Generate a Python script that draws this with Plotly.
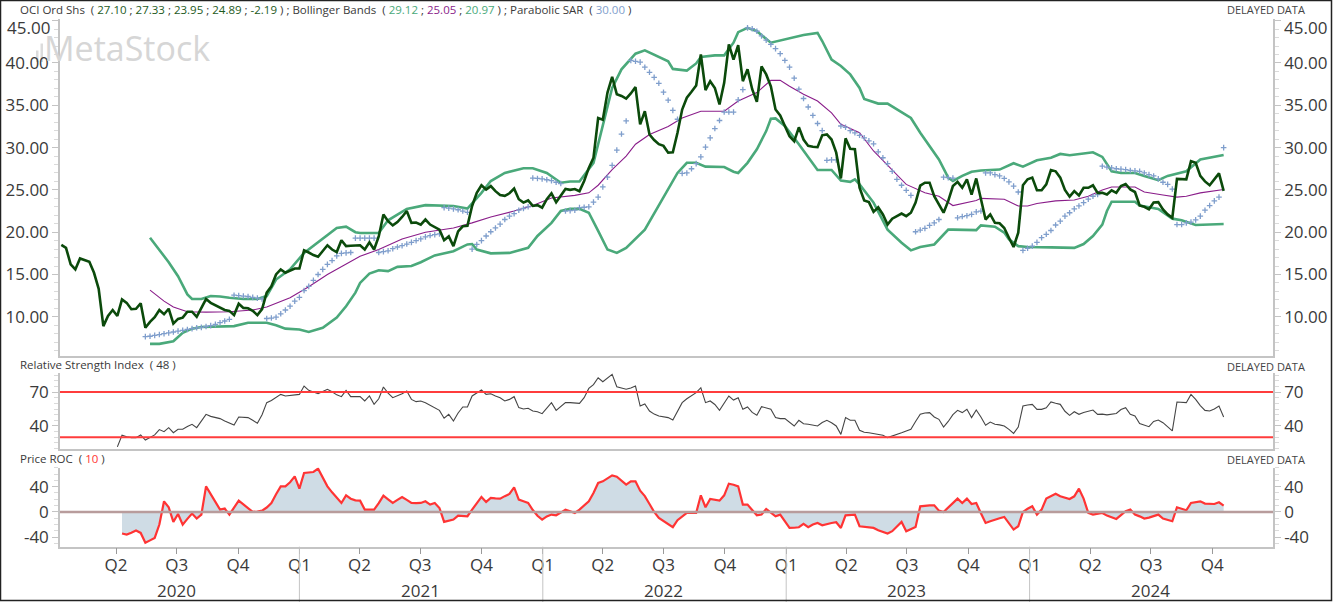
import pandas as pd
import plotly.graph_objects as go

# ---------------- data ----------------
dates = pd.date_range('2020-01-10', periods=250, freq='W-FRI')

price = [18.5, 18.15, 16.2, 15.6, 16.9, 16.7, 16.5, 15.2, 13.3, 8.9,
         10.1, 10.8, 10.1, 12.05, 11.65, 10.9, 10.95, 11.6, 8.7, 9.4,
         9.95, 10.8, 10.3, 10.95, 9.2, 9.75, 9.9, 10.6, 10.6, 10.0,
         11.1, 12.1, 11.65, 11.35, 11.0, 10.8, 10.7, 10.2, 11.55, 11.05,
         11.0, 10.7, 10.2, 10.9, 12.85, 13.6, 15.0, 15.6, 15.2, 15.45,
         15.7, 15.7, 17.85, 17.6, 17.3, 17.1, 17.8, 18.45, 17.95, 17.65,
         19.05, 18.35, 18.4, 18.4, 18.45, 17.95, 18.8, 17.95, 19.5, 22.1,
         21.3, 20.8, 21.2, 21.8, 22.5, 21.1, 21.15, 20.9, 21.5, 20.9,
         20.6, 20.3, 19.05, 19.5, 18.35, 20.1, 20.7, 20.75, 23.1, 24.65,
         25.55, 25.05, 25.45, 24.85, 24.4, 24.3, 24.6, 25.15, 23.9, 23.5,
         23.75, 23.1, 23.2, 22.9, 23.9, 24.6, 23.55, 24.3, 25.1, 25.0,
         25.1, 24.85, 26.05, 27.6, 28.8, 33.5, 33.3, 36.5, 38.35, 36.3,
         36.1, 35.8, 36.4, 37.15, 32.75, 34.3, 31.55, 30.9, 30.4, 30.2,
         29.4, 29.45, 31.75, 34.5, 35.9, 36.6, 37.35, 41.0, 36.8, 37.85,
         37.05, 35.1, 37.65, 42.2, 40.4, 42.1, 37.85, 39.25, 36.9, 35.4,
         39.6, 38.65, 37.25, 34.5, 33.8, 32.55, 31.35, 30.75, 32.4, 30.95,
         30.2, 30.1, 30.05, 31.45, 31.55, 30.95, 29.4, 26.35, 31.1, 29.85,
         29.8, 25.25, 23.75, 23.55, 22.4, 22.95, 22.1, 20.9, 21.6, 21.9,
         22.2, 21.9, 22.3, 23.5, 25.5, 25.85, 25.85, 24.25, 23.3, 22.3,
         23.7, 25.45, 25.95, 25.25, 26.25, 24.45, 26.35, 24.05, 21.5, 22.1,
         21.1, 21.05, 20.5, 19.35, 18.25, 19.95, 25.55, 26.25, 26.45, 24.95,
         24.95, 25.65, 27.35, 27.2, 26.45, 25.0, 24.2, 24.85, 24.35, 25.25,
         25.25, 25.55, 24.65, 24.65, 24.45, 24.95, 24.65, 25.45, 25.7, 25.05,
         24.75, 23.15, 23.0, 22.7, 23.5, 23.55, 22.7, 22.1, 21.7, 26.3,
         26.3, 26.25, 28.4, 28.2, 26.65, 26.0, 25.55, 26.25, 26.95, 24.89]

sar = [None] * 18 + [
    7.65, 7.7, 7.8, 7.9, 8.0, 8.1, 8.2, 8.3, 8.4, 8.5,
    8.6, 8.7, 8.75, 8.85, 8.95, 9.1, 9.3, 9.5, 9.7, 12.55,
    12.5, 12.45, 12.4, 12.3, 12.2, 12.1, 9.8, 9.85, 9.95, 10.35,
    10.8, 11.25, 11.85, 12.3, 13.1, 13.6, 14.3, 15.0, 15.6, 16.2,
    16.65, 17.2, 17.5, 17.55, 17.6, 19.3, 19.3, 19.3, 19.3, 19.3,
    17.6, 17.7, 17.8, 18.05, 18.25, 18.4, 18.6, 18.8, 19.0, 19.2,
    19.45, 19.6, 19.7, 19.8, 22.9, 22.85, 22.75, 22.65, 22.5, 22.35,
    18.0, 18.55, 19.0, 19.55, 20.05, 20.5, 20.95, 21.5, 21.9, 22.2,
    22.6, 22.8, 23.0, 26.4, 26.35, 26.3, 26.2, 26.1, 25.9, 25.75,
    22.5, 22.55, 22.6, 22.9, 22.95, 23.0, 23.55, 24.15, 25.35, 26.5,
    27.9, 29.7, 31.6, 33.15, 40.3, 40.2, 40.1, 39.5, 38.9, 38.3,
    37.6, 36.55, 35.6, 34.4, 33.35, 26.95, 27.0, 27.5, 28.1, 28.9,
    30.05, 31.15, 32.25, 33.2, 34.2, 34.2, 34.2, 35.65, 36.85, 44.15,
    44.05, 43.75, 43.2, 42.7, 42.2, 41.7, 41.1, 40.3, 39.5, 38.2,
    36.9, 35.8, 34.8, 33.8, 32.85, 32.0, 28.5, 28.55, 28.55, 32.55,
    32.4, 32.0, 31.75, 31.45, 31.15, 30.8, 30.45, 29.5, 28.8, 28.1,
    27.2, 26.25, 25.55, 24.95, 24.35, 20.05, 20.25, 20.45, 20.8, 21.1,
    21.5, 26.5, 26.45, 26.4, 21.7, 21.85, 21.95, 22.1, 22.4, 22.5,
    27.0, 27.0, 26.8, 26.65, 26.35, 25.95, 25.45, 24.75, 17.85, 18.1,
    18.35, 18.8, 19.35, 19.75, 20.2, 20.85, 21.3, 21.9, 22.3, 22.75,
    23.1, 23.5, 23.9, 24.25, 24.45, 27.8, 27.7, 27.6, 27.5, 27.45,
    27.4, 27.3, 27.25, 27.2, 27.0, 26.8, 26.65, 26.3, 25.9, 25.65,
    25.1, 20.9, 20.9, 21.1, 21.2, 21.45, 21.9, 22.6, 23.15, 23.7,
    24.15, 30.0]

# Bollinger band knots (week number, value)
bb_up_week = [19, 21, 23, 25, 27, 28, 30, 32, 34, 36, 39, 42, 44, 46, 49, 52, 56, 59, 61, 63,
              64, 68, 70, 74, 78, 84, 87, 90, 92, 95, 99, 101, 104, 107, 109, 111, 114, 116, 118, 120,
              123, 125, 127, 130, 131, 134, 136, 137, 140, 142, 144, 145, 147, 149, 152, 155, 157, 159, 162, 163,
              165, 167, 169, 171, 172, 175, 177, 179, 182, 184, 186, 188, 190, 191, 193, 195, 197, 201, 204, 206,
              209, 212, 214, 216, 219, 221, 223, 225, 227, 230, 232, 235, 237, 241, 244, 246, 249]
bb_up_val = [19.35, 17.95, 16.45, 14.8, 12.65, 12.1, 12.1, 12.45, 12.4, 12.25, 12.1, 12.1, 12.45, 14.4, 15.6, 17.55, 19.2, 20.5, 20.65, 20.0,
             19.9, 19.9, 21.4, 22.75, 23.2, 23.1, 22.8, 24.65, 26.05, 27.0, 27.55, 27.55, 27.0, 25.85, 26.0, 26.0, 28.2, 32.55, 37.05, 39.25,
             41.1, 41.5, 41.0, 40.2, 39.3, 39.1, 39.95, 40.7, 40.9, 40.9, 42.4, 43.65, 44.15, 43.75, 42.4, 42.8, 43.1, 43.3, 43.55, 42.6,
             40.4, 39.65, 38.65, 37.05, 35.75, 35.2, 35.2, 34.5, 33.5, 31.75, 30.2, 28.6, 26.45, 26.05, 26.65, 27.15, 27.3, 27.4, 28.15, 27.75,
             28.5, 28.8, 29.25, 29.1, 29.3, 29.45, 28.9, 27.2, 27.0, 27.0, 26.65, 26.15, 26.65, 27.2, 28.6, 28.8, 29.12]

bb_mid_week = [19, 22, 24, 27, 31, 36, 41, 44, 49, 53, 57, 61, 64, 68, 73, 78, 84, 88, 92, 97,
               101, 105, 110, 113, 115, 118, 121, 123, 126, 130, 133, 137, 142, 145, 149, 152, 154, 156, 159, 162,
               165, 167, 171, 174, 178, 181, 185, 188, 191, 194, 196, 197, 202, 205, 207, 209, 213, 217, 220, 223,
               225, 230, 232, 236, 239, 241, 244, 249]
bb_mid_val = [13.15, 11.85, 11.15, 10.6, 10.55, 10.6, 10.8, 11.15, 12.25, 13.55, 15.0, 16.2, 17.15, 17.95, 19.2, 20.0, 20.5, 21.1, 21.8, 22.5,
              23.15, 24.05, 24.35, 24.65, 25.55, 27.4, 29.0, 30.4, 31.55, 32.5, 33.5, 34.3, 34.3, 35.5, 36.5, 37.95, 37.95, 37.25, 36.3, 35.5,
              34.1, 32.75, 31.75, 29.6, 27.4, 25.65, 24.65, 24.25, 23.15, 23.55, 23.75, 24.0, 23.9, 23.1, 23.1, 23.4, 23.7, 23.8, 24.25, 25.0,
              25.35, 25.35, 24.75, 24.4, 24.15, 24.25, 24.65, 25.05]

bb_low_week = [19, 21, 24, 26, 28, 30, 37, 40, 44, 46, 48, 51, 53, 56, 59, 61, 63, 64, 66, 68,
               70, 72, 75, 77, 80, 84, 87, 88, 89, 92, 96, 100, 102, 105, 107, 109, 111, 113, 115, 117,
               119, 121, 125, 128, 129, 132, 134, 136, 138, 142, 144, 145, 147, 149, 151, 152, 153, 155, 158, 161,
               162, 165, 167, 169, 170, 171, 174, 177, 180, 182, 184, 187, 190, 191, 196, 197, 200, 202, 203, 205,
               207, 212, 217, 219, 221, 223, 224, 225, 230, 231, 235, 238, 240, 243, 249]
bb_low_val = [6.8, 6.8, 7.1, 8.1, 8.6, 8.8, 8.9, 9.3, 9.3, 9.0, 8.6, 8.5, 8.2, 8.7, 9.9, 11.25, 12.85, 14.0, 15.1, 15.5,
              15.4, 15.9, 16.0, 16.45, 17.25, 17.75, 18.55, 18.6, 17.95, 17.5, 17.55, 18.15, 19.55, 21.1, 22.5, 22.75, 22.75, 22.3, 20.15, 17.95,
              17.55, 18.15, 20.3, 23.1, 24.2, 27.0, 28.2, 28.2, 27.75, 27.7, 27.15, 27.0, 28.2, 29.8, 31.95, 33.4, 33.45, 32.55, 30.4, 28.2,
              27.35, 27.35, 26.1, 25.95, 26.25, 25.65, 23.5, 20.3, 18.75, 17.85, 18.25, 18.55, 20.3, 20.3, 20.25, 20.8, 20.65, 19.95, 19.15, 18.35,
              18.25, 18.2, 18.15, 18.6, 19.55, 20.9, 22.5, 23.6, 23.6, 23.15, 22.75, 21.6, 21.4, 20.85, 20.97]

rsi = [None] * 12 + [
    21.5, 31.8, 30.5, 29.7, 29.7, 32.1, 27.6, 30.0, 32.1, 36.8,
    35.0, 38.5, 34.1, 37.1, 37.1, 39.5, 41.5, 38.5, 45.0, 50.3,
    48.5, 47.5, 46.5, 44.5, 42.5, 40.9, 47.9, 47.5, 47.4, 45.0,
    42.4, 50.0, 60.6, 62.5, 65.5, 67.9, 66.5, 67.0, 67.5, 67.9,
    75.3, 71.5, 70.0, 68.5, 70.5, 72.4, 70.3, 67.5, 65.9, 71.5,
    65.9, 66.0, 65.9, 62.1, 66.5, 59.1, 64.0, 74.4, 69.0, 65.0,
    66.5, 68.5, 70.9, 63.5, 61.5, 62.1, 60.6, 58.5, 56.2, 53.8,
    46.8, 50.3, 44.4, 51.5, 56.8, 56.8, 66.5, 69.5, 71.8, 67.9,
    68.5, 66.5, 65.0, 62.1, 63.5, 65.9, 56.2, 55.0, 55.6, 53.2,
    52.5, 50.9, 55.5, 60.6, 53.8, 57.0, 60.6, 60.6, 60.6, 60.0,
    65.0, 73.2, 76.5, 82.6, 79.1, 82.0, 85.6, 74.7, 73.5, 72.4,
    73.5, 75.3, 57.6, 59.5, 53.2, 50.5, 48.8, 48.0, 47.4, 45.3,
    53.0, 60.6, 64.0, 66.5, 69.4, 73.8, 60.6, 62.1, 59.0, 53.8,
    60.0, 66.5, 62.9, 65.0, 54.7, 56.8, 52.0, 49.4, 57.1, 56.0,
    54.7, 47.4, 46.5, 46.5, 43.0, 40.0, 45.0, 42.0, 41.5, 40.5,
    40.0, 43.0, 45.0, 42.9, 40.0, 32.6, 47.4, 45.0, 45.0, 36.2,
    34.5, 34.0, 33.2, 32.5, 31.8, 29.7, 31.0, 32.6, 34.0, 35.6,
    37.1, 44.0, 50.3, 51.5, 51.8, 48.0, 45.9, 39.1, 44.0, 50.0,
    53.8, 51.8, 54.7, 47.4, 54.1, 48.0, 40.6, 43.5, 41.5, 41.0,
    40.0, 37.0, 33.5, 39.1, 57.6, 58.5, 59.1, 54.7, 54.7, 56.0,
    61.2, 60.0, 59.1, 53.0, 49.4, 52.6, 50.3, 52.0, 53.0, 54.1,
    50.3, 50.5, 49.8, 50.3, 51.0, 54.5, 56.2, 50.3, 48.8, 42.1,
    41.0, 39.4, 44.0, 45.3, 42.9, 39.1, 35.6, 61.2, 61.0, 60.6,
    67.9, 63.5, 58.0, 53.8, 53.2, 55.0, 57.6, 48.0]

roc = [None] * 13 + [
    -34.2, -35.8, -33.0, -29.5, -33.2, -48.9, -45.0, -41.1, -20.0, 16.8,
    7.4, -15.8, -3.2, -20.0, -11.0, -2.6, -10.5, -4.2, 40.5, 28.0,
    16.8, 3.7, 5.3, -4.2, 7.0, 17.9, 12.0, 6.3, 0.0, 0.5,
    2.1, 7.0, 14.2, 28.0, 40.5, 40.5, 47.0, 56.3, 36.8, 61.6,
    62.5, 63.2, 68.4, 55.0, 40.5, 31.0, 22.0, 14.2, 26.3, 21.0,
    18.4, 17.9, 3.7, 3.7, 3.7, 14.0, 25.8, 20.0, 14.2, 19.0,
    23.7, 19.0, 14.2, 14.0, 14.2, 16.8, 11.6, 14.2, 6.3, -15.8,
    -14.0, -12.1, -5.8, -6.0, -6.8, 3.7, 14.2, 23.7, 15.8, 22.1,
    21.5, 21.1, 25.0, 28.4, 38.9, 19.5, 17.0, 14.2, 3.0, -6.0,
    -12.1, -7.0, -4.2, -5.3, -1.0, 3.7, 1.0, -1.6, 3.7, 10.0,
    16.8, 30.0, 45.8, 48.4, 53.0, 57.9, 55.8, 50.0, 43.2, 48.4,
    48.4, 33.7, 25.0, 12.6, 0.0, -9.5, -14.0, -19.0, -24.2, -13.0,
    -8.0, -1.6, -1.6, -1.6, 26.3, 7.4, 20.5, 19.0, 17.9, 26.3,
    44.7, 43.0, 40.5, 11.6, 11.6, 3.0, -5.3, -4.2, 4.7, -1.0,
    -6.8, -4.2, -14.0, -25.3, -25.0, -24.2, -18.9, -24.2, -20.0, -17.4,
    -21.1, -19.0, -17.5, -16.3, -25.3, -5.3, -4.5, -4.2, -22.6, -23.5,
    -24.5, -25.3, -28.9, -31.5, -34.2, -30.5, -23.0, -15.8, -30.5, -27.0,
    -23.7, 8.9, 10.0, 10.5, 10.5, 2.1, 0.0, 7.0, 14.2, 21.1,
    14.2, 21.1, 12.6, 14.2, -2.0, -17.4, -14.7, -12.0, -10.0, -7.9,
    -18.0, -27.9, -22.6, 0.0, 5.0, 8.9, -4.2, 3.7, 21.1, 25.0,
    28.9, 24.7, 22.5, 20.5, 24.7, 36.8, 21.1, -1.6, -4.2, -3.0,
    -1.6, -5.8, -8.0, -11.1, -5.0, 1.1, 3.7, -4.2, -7.0, -10.5,
    -9.0, -6.8, -4.2, -10.5, -12.5, -14.7, 7.4, 5.0, 2.6, 14.2,
    15.5, 16.8, 13.2, 13.0, 12.6, 15.3, 10.0]

quarter_ticks = pd.date_range('2020-04-01', '2024-10-01', freq='QS')
quarter_labels = ['Q%d' % q.quarter for q in quarter_ticks]
years = [2020, 2021, 2022, 2023, 2024]

main_ticks = [10, 15, 20, 25, 30, 35, 40, 45]
rsi_ticks = [40, 70]
roc_ticks = [-40, 0, 40]

legend_vals = ['27.10', '27.33', '23.95', '24.89', '-2.19']
bb_legend = ['29.12', '25.05', '20.97']
sar_legend = '30.00'
rsi_period = '48'
roc_period = '10'

# ---------------- styling helpers ----------------
W, H = 1333, 602
ML, MR = 60, 60
PW = W - ML - MR
FONT = 'Open Sans, Liberation Sans, Arial, sans-serif'
AX = '#c4c4c4'
TXT = '#3a3a3a'

def px(x):
    return (x - ML) / PW

def py(y):
    return 1 - y / H

XR = ['2020-01-08', '2024-12-31']
DOM_MAIN = [py(355.7), py(19)]
DOM_RSI = [py(449.3), py(373)]
DOM_ROC = [py(546.7), py(467.7)]

fig = go.Figure()

def wk(idx):
    return [dates[i] for i in idx]

# main panel
fig.add_trace(go.Scatter(x=wk(bb_up_week), y=bb_up_val, mode='lines',
                         line=dict(color='#4aa97a', width=2.6), xaxis='x', yaxis='y', hoverinfo='skip'))
fig.add_trace(go.Scatter(x=wk(bb_low_week), y=bb_low_val, mode='lines',
                         line=dict(color='#4aa97a', width=2.6), xaxis='x', yaxis='y', hoverinfo='skip'))
fig.add_trace(go.Scatter(x=wk(bb_mid_week), y=bb_mid_val, mode='lines',
                         line=dict(color='#8a1d8a', width=1.1), xaxis='x', yaxis='y', hoverinfo='skip'))
fig.add_trace(go.Scatter(x=dates, y=sar, mode='markers',
                         marker=dict(symbol='cross-thin', size=4, line=dict(color='#7f9ecc', width=1.3)),
                         xaxis='x', yaxis='y', hoverinfo='skip'))
fig.add_trace(go.Scatter(x=dates, y=price, mode='lines',
                         line=dict(color='#0b4a0b', width=2.6), xaxis='x', yaxis='y'))
fig.add_trace(go.Scatter(x=[dates[0]], y=[None], xaxis='x', yaxis='y4', showlegend=False, hoverinfo='skip'))

# RSI
fig.add_trace(go.Scatter(x=dates, y=rsi, mode='lines', line=dict(color='#454545', width=1.1),
                         xaxis='x2', yaxis='y2'))
fig.add_trace(go.Scatter(x=[dates[0]], y=[None], xaxis='x2', yaxis='y5', showlegend=False, hoverinfo='skip'))

# ROC
fig.add_trace(go.Scatter(x=dates, y=roc, mode='lines', fill='tozeroy', fillcolor='#cfdce5',
                         line=dict(color='#ff3434', width=2.2), xaxis='x3', yaxis='y3'))
fig.add_trace(go.Scatter(x=[dates[0]], y=[None], xaxis='x3', yaxis='y6', showlegend=False, hoverinfo='skip'))

tickfont = dict(family=FONT, size=17, color=TXT)

def yax(domain, rng, tickvals, ticktext, minor_dtick, side='left', overlay=None, anchor='x'):
    d = dict(domain=domain, range=rng, tickmode='array', tickvals=tickvals,
             ticktext=ticktext, showgrid=False, zeroline=False,
             showline=True, linecolor=AX, linewidth=1.5, ticks='outside', ticklen=6,
             tickcolor=AX, tickwidth=1, tickfont=tickfont, side=side, anchor=anchor,
             automargin=False,
             minor=dict(tickmode='linear', dtick=minor_dtick, tick0=0, ticklen=4,
                        tickcolor='#dadada', ticks='outside', showgrid=False),
             fixedrange=True)
    if overlay:
        d['overlaying'] = overlay
    return d

# top label (45.00) is drawn separately, slightly below its tick, as in the original
main_text = ['%.2f' % v if v != main_ticks[-1] else '' for v in main_ticks]
rsi_text = ['%d' % v for v in rsi_ticks]
roc_text = ['%d' % v for v in roc_ticks]

xcommon = dict(range=XR, showgrid=False, zeroline=False, showline=True, linecolor=AX,
               linewidth=1.5, domain=[0, 1], fixedrange=True, automargin=False)

fig.update_layout(
    template='none',
    width=W, height=H, margin=dict(l=ML, r=MR, t=0, b=0, pad=0, autoexpand=False),
    paper_bgcolor='white', plot_bgcolor='white', showlegend=False,
    font=dict(family=FONT, color=TXT),
    xaxis=dict(**xcommon, anchor='y', showticklabels=False, ticks=''),
    xaxis2=dict(**xcommon, anchor='y2', showticklabels=False, ticks=''),
    xaxis3=dict(**xcommon, anchor='y3', tickmode='array', tickvals=list(quarter_ticks),
                ticktext=quarter_labels, ticks='outside', ticklen=6, tickcolor='#9a9a9a',
                tickfont=tickfont, ticklabelstandoff=-4),
    yaxis=yax(DOM_MAIN, [5.4, 45.2], main_ticks, main_text, 1, anchor='x'),
    yaxis4=yax(DOM_MAIN, [5.4, 45.2], main_ticks, main_text, 1, side='right', overlay='y', anchor='x'),
    yaxis2=yax(DOM_RSI, [19.4, 86.8], rsi_ticks, rsi_text, 5, anchor='x2'),
    yaxis5=yax(DOM_RSI, [19.4, 86.8], rsi_ticks, rsi_text, 5, side='right', overlay='y2', anchor='x2'),
    yaxis3=yax(DOM_ROC, [-55, 70], roc_ticks, roc_text, 10, anchor='x3'),
    yaxis6=yax(DOM_ROC, [-55, 70], roc_ticks, roc_text, 10, side='right', overlay='y3', anchor='x3'),
)

shapes = []
for lv in (70, 30):
    shapes.append(dict(type='line', xref='x2 domain', yref='y2', x0=0, x1=1, y0=lv, y1=lv,
                       line=dict(color='#ff3c3c', width=2)))
shapes.append(dict(type='line', xref='x3 domain', yref='y3', x0=0, x1=1, y0=0, y1=0,
                   line=dict(color='#b89c9c', width=2.5)))
for yv in years[1:]:
    shapes.append(dict(type='line', xref='x3', yref='paper', x0='%d-01-01' % yv, x1='%d-01-01' % yv,
                       y0=0, y1=DOM_ROC[0], line=dict(color='#c4c4c4', width=1)))
# watermark bar icon
for (bx0, bx1, by0) in ((36.0, 38.5, 50.5), (40.5, 43.0, 43.5)):
    shapes.append(dict(type='rect', xref='paper', yref='paper', x0=px(bx0), x1=px(bx1), y0=py(62), y1=py(by0),
                       line=dict(width=0), fillcolor='#dcdcdc', layer='below'))
shapes.append(dict(type='rect', xref='paper', yref='paper', x0=px(0.5), x1=px(W - 1.5), y0=py(H - 1.5), y1=py(0.5),
                   line=dict(color='#222222', width=1.5), fillcolor='rgba(0,0,0,0)'))
fig.update_layout(shapes=shapes)

ann = []
for yv in years:
    ann.append(dict(xref='x3', yref='paper', x='%d-07-01' % yv, y=py(590), text=str(yv),
                    showarrow=False, xanchor='center', yanchor='middle',
                    font=dict(family=FONT, size=17, color=TXT)))
# 45.00 labels, nudged below the top edge
ann.append(dict(xref='paper', yref='paper', x=px(51), y=py(28), text='%.2f' % main_ticks[-1], showarrow=False,
                xanchor='right', yanchor='middle', font=tickfont, borderpad=0))
ann.append(dict(xref='paper', yref='paper', x=px(1283), y=py(28), text='%.2f' % main_ticks[-1], showarrow=False,
                xanchor='left', yanchor='middle', font=tickfont, borderpad=0))

g = '#1d5a1d'
head = ('OCI Ord Shs&nbsp; ( ' + ' ; '.join(
    '<span style="color:%s">%s</span>' % (g, v) for v in legend_vals) + ' ) ; ' +
    'Bollinger Bands&nbsp; ( ' +
    '<span style="color:#4aa97a">%s</span>' % bb_legend[0] + ' ; ' +
    '<span style="color:#8a1d8a">%s</span>' % bb_legend[1] + ' ; ' +
    '<span style="color:#4aa97a">%s</span>' % bb_legend[2] + ' ) ; ' +
    'Parabolic SAR&nbsp; ( ' + '<span style="color:#7f9ecc">%s</span>' % sar_legend + ' )')
small = dict(family=FONT, size=11.5, color=TXT)
ann.append(dict(xref='paper', yref='paper', x=px(18), y=py(9), text=head, showarrow=False,
                xanchor='left', yanchor='middle', font=small))
ann.append(dict(xref='paper', yref='paper', x=px(18), y=py(364), showarrow=False,
                text='Relative Strength Index&nbsp; ( ' + rsi_period + ' )',
                xanchor='left', yanchor='middle', font=small))
ann.append(dict(xref='paper', yref='paper', x=px(18), y=py(458), showarrow=False,
                text='Price ROC&nbsp; ( <span style="color:#ff3434">' + roc_period + '</span> )',
                xanchor='left', yanchor='middle', font=small))
for yy in (10, 366, 459):
    ann.append(dict(xref='paper', yref='paper', x=px(1307), y=py(yy), text='DELAYED DATA', showarrow=False,
                    xanchor='right', yanchor='middle', font=dict(family=FONT, size=11, color='#444444')))
ann.append(dict(xref='paper', yref='paper', x=px(42), y=py(48), text='MetaStock', showarrow=False,
                xanchor='left', yanchor='middle', font=dict(family=FONT, size=34, color='#d6d6d6')))
fig.update_layout(annotations=ann)

fig.write_html('out.html', config={'displayModeBar': False},
               post_script="document.body.style.margin='0';document.body.style.overflow='hidden';")
